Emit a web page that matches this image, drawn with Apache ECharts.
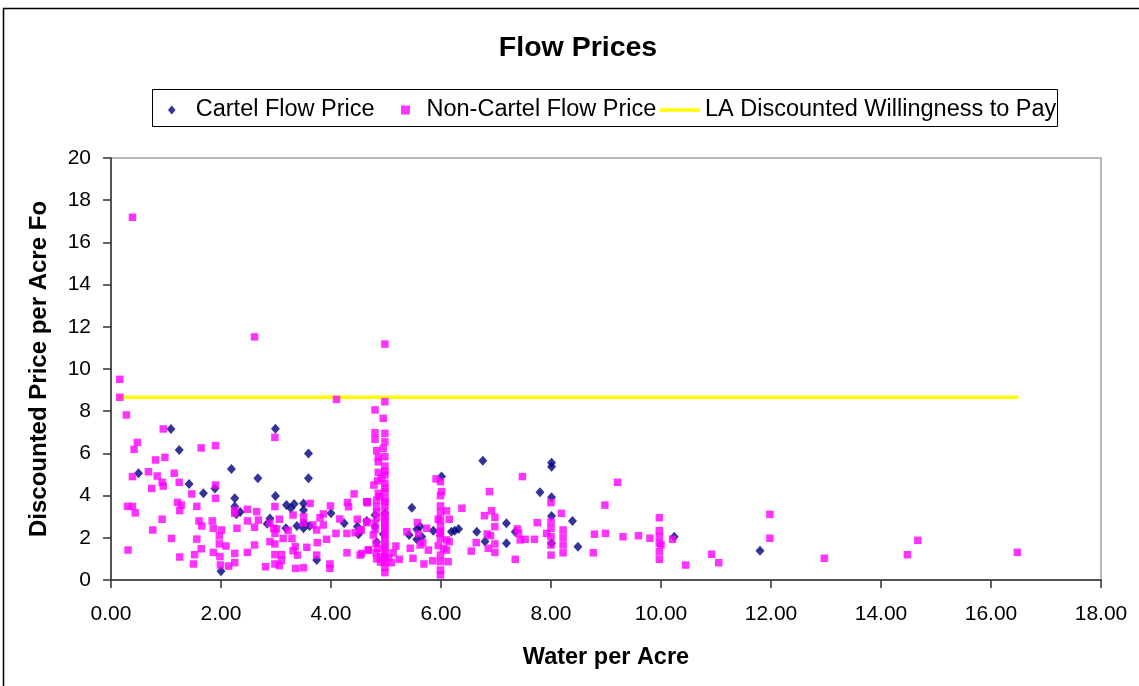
<!DOCTYPE html>
<html>
<head>
<meta charset="utf-8">
<script src="https://cdn.jsdelivr.net/npm/echarts@6/dist/echarts.min.js"></script>
<style>
html,body{margin:0;padding:0;background:#fff;}
#chart{width:1139px;height:686px;}
</style>
</head>
<body>
<div id="chart"></div>
<script>
// ---- data ----
const titleText = "Flow Prices";
const seriesNames = ["Cartel Flow Price", "Non-Cartel Flow Price", "LA Discounted Willingness to Pay"];
const xAxisName = "Water per Acre";
const yAxisName = "Discounted Price per Acre Fo";

const cartelData = [
  [0.50,5.06],[1.09,7.16],[1.24,6.16],[1.42,4.55],[1.68,4.11],[1.89,4.34],[2.00,0.42],[2.19,5.26],
  [2.25,3.87],[2.25,3.48],[2.28,3.12],[2.35,3.22],[2.67,4.82],[2.84,2.67],[2.89,2.92],[2.99,7.17],
  [2.99,3.98],[3.19,3.55],[3.33,3.60],[3.27,3.40],[3.50,3.63],[3.50,3.32],[3.18,2.45],[3.38,2.56],
  [3.50,2.45],[3.51,2.69],[3.61,2.56],[3.59,6.00],[3.59,4.82],[3.74,0.95],[4.00,3.16],[4.24,2.69],
  [4.48,2.53],[4.50,2.17],[4.65,2.80],[4.80,3.08],[4.80,2.53],[4.98,3.16],[4.83,1.79],[4.95,2.18],
  [5.47,3.43],[5.42,2.13],[5.56,2.40],[5.56,1.93],[5.62,2.53],[5.65,2.05],[5.86,2.34],[6.01,4.90],
  [6.19,2.29],[6.25,2.34],[6.32,2.42],[6.76,5.65],[6.65,2.29],[6.80,1.82],[7.19,2.69],[7.19,1.74],
  [7.35,2.29],[7.80,4.16],[8.01,5.56],[8.01,5.37],[8.01,3.92],[8.01,3.03],[8.01,1.74],[8.39,2.80],
  [8.49,1.58],[10.24,2.05],[11.80,1.39]
];

const nonCartelData = [
  [0.39,17.19],[0.16,9.51],[0.16,8.66],[0.28,7.82],[0.95,7.16],[0.48,6.52],[0.42,6.19],[0.81,5.69],
  [0.98,5.81],[1.64,6.26],[1.90,6.37],[2.98,6.76],[2.61,11.52],[4.10,8.56],[4.98,11.18],
  [0.39,4.90],[0.68,5.13],[0.84,4.93],[1.15,5.06],[0.93,4.63],[0.95,4.45],[0.74,4.34],[1.24,4.63],
  [1.47,4.08],[1.90,4.50],[1.90,3.87],[0.30,3.49],[0.39,3.49],[0.44,3.18],[1.21,3.68],[1.28,3.55],
  [1.25,3.29],[1.56,3.49],[0.93,2.88],[0.76,2.37],[1.10,1.97],[0.31,1.42],[1.25,1.09],[1.60,2.80],
  [1.65,2.56],[1.56,1.94],[1.64,1.48],[1.52,1.20],[1.50,0.76],[1.84,2.80],[1.86,2.45],[1.97,2.09],
  [2.01,2.37],[1.97,1.71],[1.86,1.31],[1.98,1.11],[1.99,0.71],[2.09,1.61],[2.14,0.66],[2.25,1.26],
  [2.25,0.82],[2.25,3.32],[2.25,3.16],[2.29,2.45],[2.48,3.35],[2.48,2.80],[2.65,3.24],[2.68,2.84],
  [2.61,2.50],[2.61,1.66],[2.48,1.31],[2.81,0.63],
  [2.98,3.48],[3.06,2.88],[2.89,2.69],[2.96,2.45],[3.01,2.42],[2.98,2.21],[2.89,1.82],[2.98,1.71],
  [2.98,1.20],[3.10,1.20],[3.10,0.92],[2.98,0.76],[3.06,0.68],
  [3.31,3.08],[3.50,3.00],[3.80,2.95],[3.86,3.13],[3.99,3.51],[4.30,3.67],[4.32,3.47],[4.42,4.08],
  [4.65,3.71],[4.16,2.89],[4.48,2.88],[3.22,2.35],[3.50,2.69],[3.67,2.61],[3.74,2.37],[3.86,2.61],
  [4.09,2.21],[4.29,2.21],[4.44,2.24],[4.53,2.37],[3.13,1.97],[3.29,1.97],[3.75,1.77],[3.92,1.93],
  [3.56,1.55],[3.35,1.58],[3.31,1.39],[3.39,1.18],[3.36,0.55],[3.50,0.58],[3.74,1.18],[3.98,0.76],
  [3.98,0.55],[4.29,1.29],[4.53,1.18],[3.62,3.63],[4.66,3.66],[4.65,2.72],[4.68,1.42],
  [4.98,8.45],[4.80,8.06],[4.95,7.66],[4.80,6.98],[4.98,6.95],[4.80,6.67],[4.98,6.55],[4.83,6.13],
  [4.95,6.24],[4.86,5.81],[4.98,5.84],[4.98,5.40],[4.98,4.98],[4.92,4.82],[4.98,4.58],[4.78,4.50],
  [4.98,4.19],[4.86,4.11],[4.66,3.71],[4.83,3.79],[4.98,3.87],[4.98,3.55],[4.83,3.47],[4.98,3.26],
  [4.65,2.76],[4.80,2.69],[4.98,2.76],[4.98,2.45],[4.77,2.13],[4.98,2.13],[4.55,2.37],[4.56,1.26],
  [4.68,1.42],[4.82,1.74],[4.82,1.29],[4.98,1.74],[4.98,1.42],[4.98,1.10],[4.98,0.82],[4.98,0.35],
  [5.10,0.82],[5.13,1.29],[5.18,1.61],[5.24,0.98],[5.38,2.29],[5.44,1.50],[5.49,1.03],[5.57,2.72],
  [4.98,5.15],[4.98,4.35],[4.98,3.70],[4.98,3.05],[4.98,2.90],[4.98,2.60],[4.98,2.30],[4.98,1.95],
  [4.98,1.58],[4.98,1.25],[4.98,0.95],[4.98,0.60],[4.86,5.60],[4.86,5.10],[4.85,4.70],[4.88,3.95],
  [4.83,3.20],[4.83,2.95],[4.80,2.40],[4.85,1.50],[4.83,1.00],[4.90,0.85],[4.90,1.10],[5.05,1.05],
  [5.59,2.18],[5.62,1.66],[5.67,1.77],[5.69,0.76],[5.74,2.45],[5.77,1.42],[5.85,0.91],[5.91,4.79],
  [5.99,4.66],[6.01,4.19],[5.99,4.00],[5.99,3.51],[6.10,3.28],[5.95,2.88],[5.99,2.84],[6.15,2.88],
  [5.99,2.53],[5.98,2.21],[5.99,1.98],[5.95,1.63],[6.10,1.90],[6.15,1.82],[6.10,1.42],[5.99,1.18],
  [6.13,0.87],[5.99,0.87],[5.99,0.47],[5.99,0.24],[5.99,3.20],[5.99,2.30],[6.05,1.50],
  [6.38,3.40],[6.55,1.37],[6.64,1.77],[6.79,3.05],[6.88,4.19],[6.92,3.28],[6.98,2.97],[6.98,2.53],
  [6.84,2.18],[6.90,2.10],[6.86,1.50],[6.98,1.71],[6.98,1.31],[7.35,0.98],[7.39,2.42],[7.41,2.21],
  [7.44,1.90],[7.53,1.93],[7.48,4.90],[7.70,1.93],[7.75,2.72],[7.92,2.21],[8.00,3.67],[8.00,2.77],
  [8.00,2.45],[8.00,2.05],[8.00,1.66],[8.00,1.18],[8.19,3.16],[8.22,2.37],[8.22,2.02],[8.22,1.66],
  [8.22,1.29],[8.79,2.17],[8.77,1.29],[8.98,3.55],[8.99,2.21],[9.21,4.63],
  [9.31,2.05],[9.59,2.10],[9.80,1.98],[9.97,2.95],[9.97,2.34],[9.97,2.05],[9.97,1.74],[10.00,1.66],
  [9.97,1.34],[9.97,0.98],[10.21,1.93],[10.45,0.71],[10.92,1.22],[11.05,0.82],[11.98,3.11],[11.98,1.98],
  [12.97,1.03],[14.48,1.20],[14.67,1.88],[16.48,1.31]
];

const laWtpX = [0.10, 16.50];
const laWtpY = [8.66, 8.66];

const xMin = 0, xMax = 18, xStep = 2;
const yMin = 0, yMax = 20, yStep = 2;

// ---- chart ----
const chart = echarts.init(document.getElementById('chart'));
const FONT = '"Liberation Sans", Arial, sans-serif';
const legendText = { fontFamily: FONT, fontSize: 23.5, color: '#000' };
const legendBase = { top: 98, padding: 0, itemHeight: 9, symbolKeepAspect: true, textStyle: legendText, selectedMode: false };
const option = {
  backgroundColor: '#ffffff',
  animation: false,
  textStyle: { fontFamily: FONT, color: '#000' },
  title: {
    text: titleText,
    left: 573, top: 29, textAlign: 'center',
    textStyle: { fontFamily: FONT, fontSize: 28.5, fontWeight: 'bold', color: '#000' }
  },
  legend: [
    Object.assign({}, legendBase, { left: 168, itemWidth: 38,
      data: [{ name: seriesNames[0], icon: 'path://M5,0L10,6L5,12L0,6Z', itemStyle: { color: '#000080' } }] }),
    Object.assign({}, legendBase, { left: 401, itemWidth: 32,
      data: [{ name: seriesNames[1], icon: 'path://M0,0H10V10H0Z', itemStyle: { color: '#FF00FF' } }] }),
    Object.assign({}, legendBase, { left: 660, itemWidth: 40,
      data: [{ name: seriesNames[2], icon: 'path://M0,0H40V3.5H0Z', itemStyle: { color: '#FFFF00' } }] })
  ],
  grid: {
    left: 111, top: 158, right: 38, bottom: 106,
    show: true, borderColor: '#a0a0a0', borderWidth: 1.5, backgroundColor: 'transparent'
  },
  xAxis: {
    type: 'value', min: xMin, max: xMax, interval: xStep,
    name: xAxisName, nameLocation: 'middle', nameGap: 66,
    nameTextStyle: { fontFamily: FONT, fontSize: 23.5, fontWeight: 'bold', color: '#000' },
    axisLine: { show: true, lineStyle: { color: '#333', width: 1.5 } },
    axisTick: { show: true, inside: false, length: 8, lineStyle: { color: '#333', width: 1.5 } },
    axisLabel: { fontFamily: FONT, fontSize: 21, color: '#000', margin: 24,
      formatter: v => v.toFixed(2) },
    splitLine: { show: false }
  },
  yAxis: {
    type: 'value', min: yMin, max: yMax, interval: yStep,
    name: yAxisName, nameLocation: 'middle', nameGap: 60,
    nameTextStyle: { fontFamily: FONT, fontSize: 24, fontWeight: 'bold', color: '#000' },
    axisLine: { show: true, lineStyle: { color: '#333', width: 1.5 } },
    axisTick: { show: true, inside: false, length: 8, lineStyle: { color: '#333', width: 1.5 } },
    axisLabel: { fontFamily: FONT, fontSize: 21, color: '#000', margin: 20 },
    splitLine: { show: false }
  },
  series: [
    {
      name: seriesNames[2], type: 'line', symbol: 'none', z: 1,
      data: laWtpX.map((x, i) => [x, laWtpY[i]]),
      lineStyle: { color: '#FFFF00', width: 3.5 },
      itemStyle: { color: '#FFFF00' }
    },
    {
      name: seriesNames[0], type: 'scatter', symbol: 'diamond', symbolSize: [9, 10], z: 2,
      data: cartelData,
      itemStyle: { color: '#000080' }
    },
    {
      name: seriesNames[1], type: 'scatter', symbol: 'rect', symbolSize: 7.5, z: 3,
      data: nonCartelData,
      itemStyle: { color: '#FF00FF' }
    }
  ],
  graphic: [
    { type: 'rect', silent: true, z: -1,
      shape: { x: 3.5, y: 8.5, width: 1300, height: 800 },
      style: { fill: 'none', stroke: '#000', lineWidth: 1.5 } },
    { type: 'rect', silent: true, z: -1,
      shape: { x: 152.5, y: 89.5, width: 905, height: 37 },
      style: { fill: 'none', stroke: '#000', lineWidth: 1 } }
  ]
};
chart.setOption(option);
</script>
</body>
</html>
